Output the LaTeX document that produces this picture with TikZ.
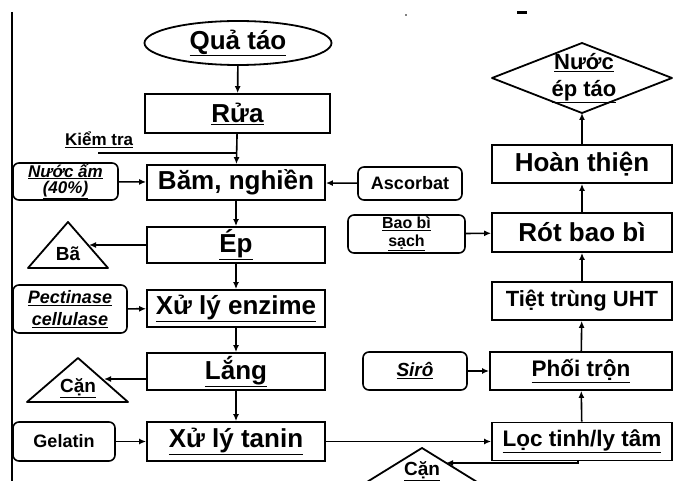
\documentclass[tikz,border=0pt]{standalone}
\usepackage{fontspec}
\setmainfont{Liberation Sans}
\usetikzlibrary{shapes.geometric,arrows.meta}
\newcommand\bigsz{\fontsize{26}{28}\selectfont}
\newcommand\midsz{\fontsize{22.5}{24}\selectfont}
\newcommand\smsz{\fontsize{18}{18}\selectfont}
\begin{document}
\begin{tikzpicture}[x=1pt,y=-1pt,
  proc/.style={draw, line width=1.8pt, inner sep=0pt, font=\bfseries\bigsz},
  rproc/.style={proc, minimum width=180pt, minimum height=38pt, font=\bfseries\midsz},
  side/.style={draw, rounded corners=6pt, line width=1.6pt, inner sep=0pt, align=center, font=\bfseries\smsz},
  tri/.style={draw, line width=1.8pt, line join=round},
  lbl/.style={inner sep=0pt, font=\bfseries\fontsize{19}{20}\selectfont},
  arr/.style={-{Latex[length=7pt,width=6pt]}, line width=1.6pt},
  ln/.style={line width=1.6pt}]
\useasboundingbox (0,0) rectangle (673,481);
\clip (0,0) rectangle (673,481);
\fill[white] (0,0) rectangle (673,481);
% scan marks
\draw[line width=1.5pt] (12,12) -- (12,481);
\draw[line width=3pt] (517,13) -- (527,13);
\fill (406,15) circle (0.8pt);
% left column
\node[proc, ellipse, minimum width=187pt, minimum height=44pt] (qua) at (238,43) {\underline{Quả táo}};
\node[proc, minimum width=185pt, minimum height=39pt] (rua) at (237.5,113.5) {\underline{Rửa}};
\node[lbl, anchor=west, font=\bfseries\fontsize{17}{18}\selectfont] (kiem) at (65,140) {\underline{Kiểm tra}};
\coordinate (kiemS) at (98,153);
\coordinate (kiemE) at (237,153);
\node[proc, minimum width=178pt, minimum height=35pt] (bam) at (236,182.5) {Băm, nghiền};
\node[proc, minimum width=178pt, minimum height=36pt] (ep) at (236,245) {\underline{Ép}};
\node[proc, minimum width=178pt, minimum height=37pt] (enz) at (236,308.5) {\underline{Xử lý enzime}};
\node[proc, minimum width=178pt, minimum height=37pt] (lang) at (236,371.5) {\underline{Lắng}};
\node[proc, minimum width=178pt, minimum height=39pt] (tanin) at (236,441.5) {\underline{Xử lý tanin}};
% left inputs
\node[side, minimum width=105pt, minimum height=37pt, font=\bfseries\itshape\fontsize{17}{16.5}\selectfont] (nuoc) at (65.5,181.5) {\underline{Nước ấm}\\\underline{(40\%)}};
\node[side, minimum width=114pt, minimum height=48pt, font=\bfseries\itshape\fontsize{18}{22}\selectfont] (pect) at (70,309) {\underline{Pectinase}\\\underline{cellulase}};
\node[side, minimum width=102pt, minimum height=39pt] (gel) at (64,441.5) {Gelatin};
\node[side, minimum width=104pt, minimum height=33pt] (asc) at (410,183.5) {Ascorbat};
% triangles
\draw[tri] (68,222) -- (108,268) -- (28,268) -- cycle;
\node[lbl] (ba) at (68,254) {Bã};
\coordinate (baR) at (89,245);
\draw[tri] (78,358) -- (128,402) -- (27,402) -- cycle;
\node[lbl] (can1) at (78,388) {\underline{Cặn}};
\coordinate (canR) at (104,379);
\draw[tri] (422,448) -- (490,490) -- (354,490) -- cycle;
\node[lbl] (can2) at (422,471) {\underline{Cặn}};
\coordinate (can2R) at (446,463);
% right column
\node[rproc] (loc) at (582,441.5) {\underline{Lọc tinh/ly tâm}};
\node[rproc, minimum width=182pt] (phoi) at (581,371) {\underline{Phối trộn}};
\node[rproc, font=\bfseries\fontsize{22}{24}\selectfont] (tiet) at (582,301) {Tiệt trùng UHT};
\node[rproc, minimum height=39pt, font=\bfseries\bigsz] (rot) at (582,232.5) {Rót bao bì};
\node[rproc, font=\bfseries\bigsz] (hoan) at (582,164) {Hoàn thiện};
\draw[tri] (492,78) -- (582,43) -- (672,78) -- (582,113) -- cycle;
\coordinate (nuocB) at (582,113);
\node[lbl, align=center, font=\bfseries\fontsize{22}{27}\selectfont] (nuocep) at (584,78) {\underline{Nước}\\\underline{ép táo}};
\node[side, minimum width=117pt, minimum height=38pt, font=\bfseries\fontsize{16}{18}\selectfont] (bao) at (406.5,234) {\underline{Bao bì}\\\underline{sạch}};
\node[side, minimum width=104pt, minimum height=38pt, font=\bfseries\itshape\fontsize{19}{20}\selectfont] (siro) at (415,371) {\underline{Sirô}};
% connectors
\draw[arr] (qua) -- (rua);
\draw[arr] (rua) -- (bam);
\draw[ln] (kiemS) -- (kiemE);
\draw[arr] (nuoc) -- (bam);
\draw[arr] (asc) -- (bam);
\draw[arr] (bam) -- (ep);
\draw[arr] (ep.west) -- (baR);
\draw[arr] (ep) -- (enz);
\draw[arr] (pect) -- (enz);
\draw[arr] (enz) -- (lang);
\draw[arr] (lang.west |- canR) -- (canR);
\draw[arr] (lang) -- (tanin);
\draw[arr] (gel) -- (tanin);
\draw[arr] (tanin.east) -- (loc.west);
\draw[arr] ([xshift=-4pt]loc.south) |- (can2R);
\draw[arr] (loc) -- (phoi);
\draw[arr] (siro) -- (phoi);
\draw[arr] (phoi) -- (tiet);
\draw[arr] (tiet) -- (rot);
\draw[arr] (bao) -- (rot);
\draw[arr] (rot) -- (hoan);
\draw[arr] (hoan) -- (nuocB);
\end{tikzpicture}
\end{document}
